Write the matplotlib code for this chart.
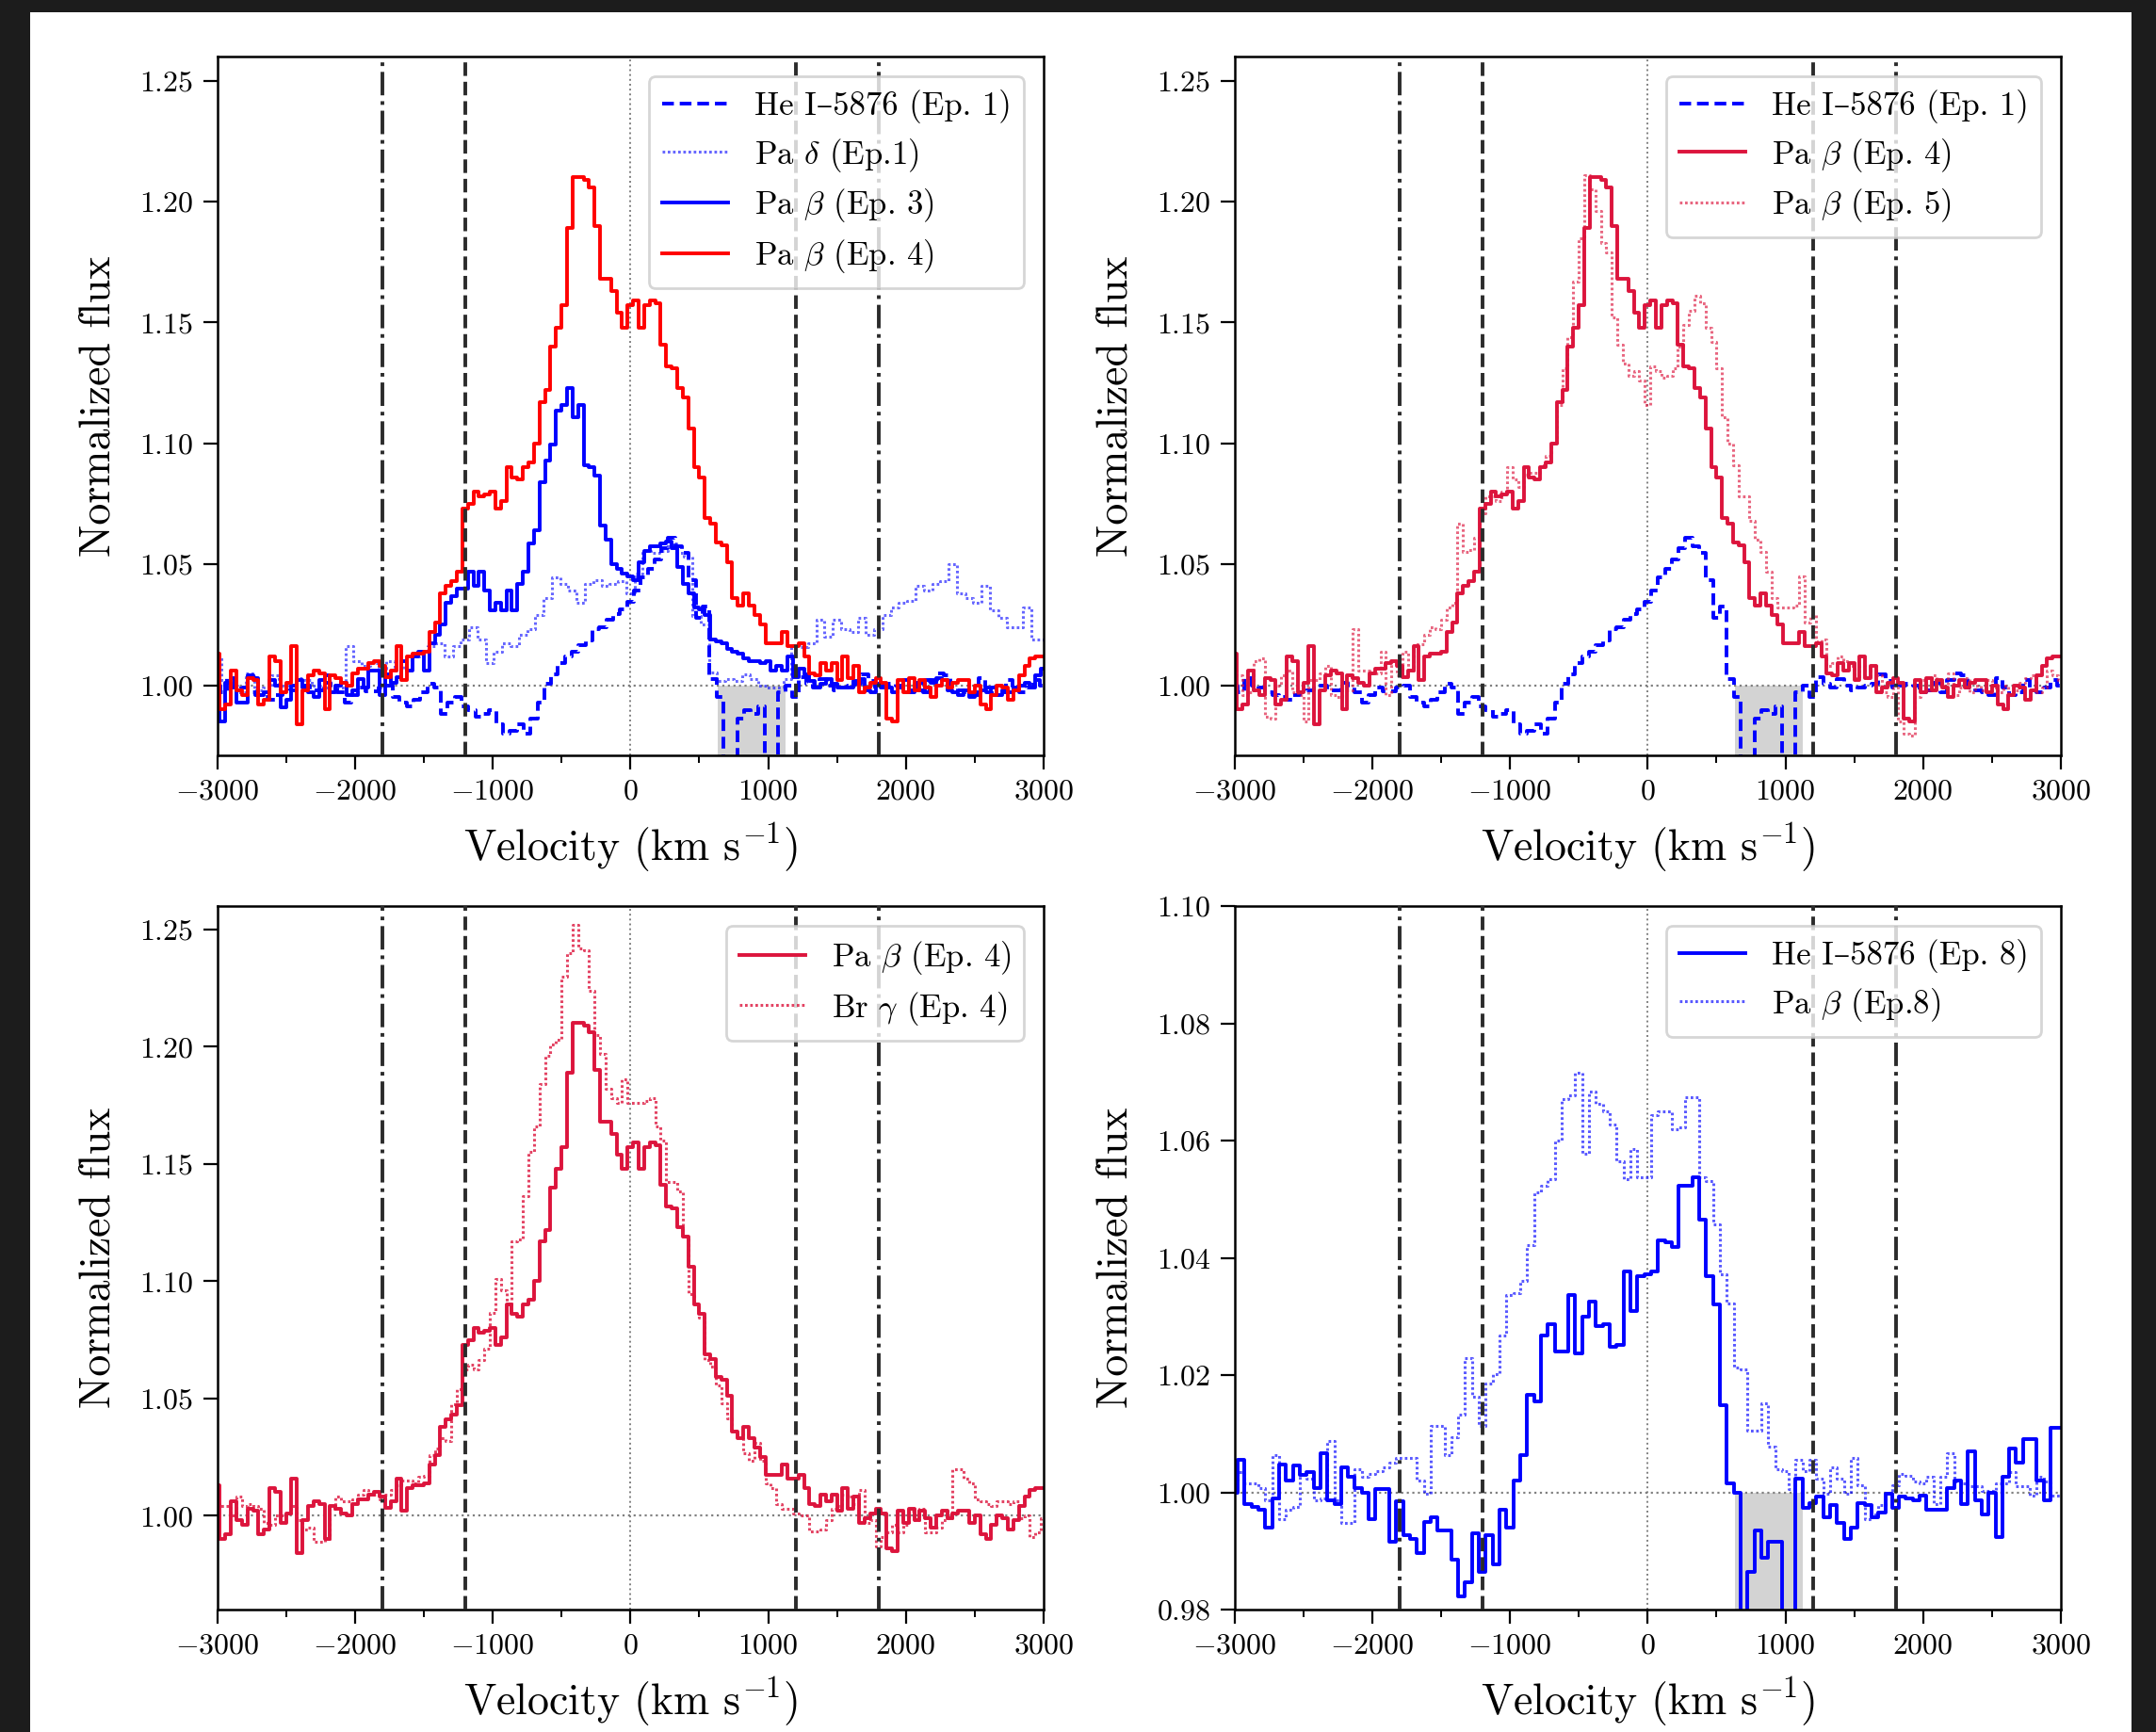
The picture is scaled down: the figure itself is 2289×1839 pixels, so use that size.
import numpy as np
import matplotlib
matplotlib.use("Agg")
import matplotlib.pyplot as plt
from matplotlib.ticker import MultipleLocator, NullLocator
from matplotlib.patches import Rectangle

plt.rcParams['font.family'] = ['cmr10', 'DejaVu Serif']
plt.rcParams['mathtext.fontset'] = 'cm'
plt.rcParams['axes.formatter.use_mathtext'] = True
plt.rcParams['axes.unicode_minus'] = True

# ---------------- data (normalized flux) ----------------
# Pa beta, epoch 4 : start -3000 km/s, 40 km/s bins
PAB_EP4_V0, PAB_EP4_DV = -3000, 40
PAB_EP4 = [
    1.013, 0.990, 0.992, 1.006, 0.998, 0.996, 1.003, 1.002, 0.992, 0.994,
    1.012, 1.010, 0.997, 1.001, 1.016, 0.984, 0.998, 1.004, 1.006, 1.005,
    0.990, 1.004, 1.003, 1.001, 1.000, 1.005, 1.007, 1.007, 1.009, 1.010, 1.008,
    1.0035, 1.006, 1.016, 1.002, 1.012, 1.013, 1.013, 1.014, 1.022, 1.026,
    1.038, 1.041, 1.043, 1.047, 1.073, 1.075, 1.080, 1.078, 1.079, 1.080,
    1.073, 1.076, 1.090, 1.086, 1.085, 1.090, 1.092, 1.100, 1.117, 1.122,
    1.140, 1.148, 1.157, 1.189, 1.210, 1.210, 1.209, 1.206, 1.190, 1.168,
    1.168, 1.163, 1.154, 1.148, 1.157, 1.159, 1.148, 1.157, 1.159, 1.158,
    1.141, 1.132, 1.131, 1.123, 1.119, 1.106, 1.090, 1.086, 1.069, 1.067,
    1.059, 1.058, 1.051, 1.036, 1.033, 1.038, 1.033, 1.029, 1.025, 1.0175,
    1.0175, 1.0175, 1.022, 1.016, 1.016, 1.0175, 1.012, 1.005, 1.004, 1.009,
    1.006, 1.009, 1.002, 1.012, 1.003, 1.008, 0.997, 0.999, 1.001, 1.003,
    1.001, 0.986,
    0.985, 1.002, 0.997, 1.003, 0.998, 1.002, 0.999, 0.995, 1.000, 1.002,
    0.999, 1.001, 1.002, 1.002, 0.997, 1.000, 0.992, 0.990, 0.996, 1.000,
    0.999, 0.994, 0.998, 1.004, 1.008, 1.011, 1.012, 1.012,
]

# Pa beta, epoch 3 : start -3000 km/s, 40 km/s bins
PAB_EP3_V0, PAB_EP3_DV = -3000, 40
PAB_EP3 = [
    1.010, 0.985, 1.001, 0.999, 0.993, 0.993, 1.004, 1.003, 0.996, 0.997,
    1.002, 1.000, 0.991, 0.994, 1.000, 1.002, 0.999, 0.997, 0.995, 1.002,
    1.004, 0.997, 1.000, 1.001, 0.996, 0.998,
    1.0026, 0.9989, 1.006, 1.006, 0.996, 1.0045, 1.001, 1.0035, 1.010, 1.006,
    1.012, 1.014, 1.006, 1.0175, 1.021, 1.025, 1.034, 1.037, 1.040, 1.040,
    1.047, 1.041, 1.047, 1.039, 1.031, 1.034, 1.031, 1.039, 1.031, 1.042,
    1.047, 1.0585, 1.064, 1.084, 1.093, 1.0995, 1.1135, 1.116, 1.123, 1.111,
    1.116, 1.091, 1.090, 1.0865, 1.066, 1.060, 1.050, 1.048, 1.046, 1.045,
    1.0436, 1.051, 1.0557, 1.0576, 1.0576, 1.0585, 1.0594, 1.0567, 1.049, 1.042,
    1.038, 1.032, 1.0315, 1.029, 1.019, 1.018, 1.0175, 1.015, 1.014, 1.013,
    1.011, 1.010, 1.010, 1.009, 1.010, 1.006, 1.008, 1.006, 1.012, 1.0035,
    1.007, 1.0045, 1.0017, 0.999, 1.0007, 1.0026, 1.0007, 0.999, 0.999, 0.999,
    1.0017, 1.0026, 0.998, 0.997, 1.0007, 0.999, 0.999, 0.997,
    0.999, 1.002, 0.997, 0.999, 0.998, 1.002, 1.001, 1.003, 1.002, 0.998,
    0.997, 0.996, 0.998, 0.995, 0.997, 0.998, 0.997, 0.999, 0.996, 0.998,
    0.997, 0.999, 1.000, 1.001, 0.999, 1.004, 1.007,
]

# He I 5876, epoch 1 : start -3000 km/s, 50 km/s bins
HEI_EP1_V0, HEI_EP1_DV = -3000, 50
HEI_EP1 = [
    1.000, 0.997, 1.003, 1.000, 0.999, 0.997, 0.996, 0.995, 0.994, 0.996,
    0.997, 0.998, 1.000, 1.000, 0.998, 0.998, 1.001, 0.999, 0.997, 0.993, 0.996,
    0.999, 0.9976, 0.9974, 0.999, 1.000, 0.995, 0.993, 0.9914, 0.994, 0.997,
    1.0007, 0.999, 0.988, 0.993, 0.995, 0.9914, 0.9896, 0.987, 0.988, 0.9896,
    0.984, 0.980, 0.981, 0.984, 0.980, 0.986, 0.993, 1.0007, 1.0045, 1.009,
    1.012, 1.0138, 1.0166, 1.0184, 1.023, 1.024, 1.027, 1.0296, 1.0315, 1.0343,
    1.039, 1.0445, 1.048, 1.052, 1.0567, 1.061, 1.0576, 1.0548, 1.0436, 1.028,
    1.0324, 1.0026, 0.995, 0.955, 0.955, 0.986, 0.9896, 0.988, 0.9914, 0.955,
    0.955, 0.997, 1.000, 0.995, 1.0035, 1.0007, 0.999, 1.0026, 1.000, 0.998,
    0.999, 1.000, 1.0007, 1.0045, 1.0017, 0.999, 1.000, 1.0007,
    1.000, 0.997, 0.998, 1.001, 0.997, 1.002, 1.005, 1.004, 0.999, 0.998,
    0.997, 0.996, 1.003, 0.999, 0.996, 0.997, 1.002, 0.998, 0.997, 0.999,
    1.002, 1.000,
]

# Pa delta, epoch 1 : start -3000 km/s, 60 km/s bins
PAD_EP1_V0, PAD_EP1_DV = -3000, 60
PAD_EP1 = [
    1.012, 1.002, 1.000, 0.997, 1.005, 0.998, 0.999, 1.004, 1.000, 1.000,
    1.003, 1.002, 1.000, 0.999, 0.998, 0.999, 1.016, 1.010,
    1.008, 1.009, 1.007, 1.010, 1.006, 1.008, 1.012, 1.014, 1.016, 1.0175,
    1.012, 1.016, 1.019, 1.024, 1.019, 1.009, 1.0138, 1.0175, 1.016, 1.021,
    1.023, 1.029, 1.036, 1.0445, 1.042, 1.039, 1.034, 1.042, 1.0436, 1.041,
    1.042, 1.043, 1.038, 1.046, 1.0557, 1.0548, 1.0557, 1.0585, 1.0548, 1.053,
    1.0287, 1.025, 1.0054, 1.0017, 1.0026, 1.0017, 1.0045, 1.0026, 1.000, 0.999,
    0.999, 1.0026, 1.0166, 1.0156, 1.0175, 1.027, 1.020, 1.027, 1.023, 1.022,
    1.028, 1.021, 1.023, 1.029, 1.032,
    1.034, 1.035, 1.041, 1.039, 1.042, 1.043, 1.050, 1.038, 1.036, 1.034,
    1.041, 1.031, 1.028, 1.024, 1.024, 1.032, 1.019, 1.019,
]

# Pa beta, epoch 5 : start -3000 km/s, 40 km/s bins
PAB_EP5_V0, PAB_EP5_DV = -3000, 40
PAB_EP5 = [
    1.006, 1.004, 0.996, 0.997, 1.010, 1.011, 0.987, 0.986, 1.000, 1.004,
    1.006, 0.997, 0.996, 0.985, 1.002, 1.002, 1.005, 1.008, 0.996, 0.995,
    0.998, 0.998, 1.023, 1.006, 1.006, 1.005,
    1.005, 1.014, 0.996, 1.010, 1.004, 1.014, 1.006, 1.017, 1.017, 1.021,
    1.024, 1.023, 1.027, 1.032, 1.034, 1.067, 1.055, 1.056, 1.061, 1.071,
    1.078, 1.078, 1.076, 1.080, 1.090, 1.085, 1.082, 1.087, 1.088, 1.088,
    1.091, 1.095, 1.100, 1.116, 1.131, 1.144, 1.167, 1.185, 1.211, 1.205,
    1.196, 1.183, 1.179, 1.152, 1.141, 1.133, 1.128, 1.130, 1.126, 1.116,
    1.132, 1.130, 1.127, 1.128, 1.131, 1.140, 1.149, 1.155, 1.161, 1.158,
    1.148, 1.142, 1.131, 1.111, 1.100, 1.091, 1.078, 1.078, 1.068, 1.060,
    1.055, 1.047, 1.036, 1.032, 1.032, 1.032, 1.033, 1.045, 1.026, 1.029,
    1.018, 1.019, 1.008, 1.009, 1.012, 1.010, 1.008, 1.003, 1.008, 1.003,
    1.008, 1.004, 0.997, 0.995, 0.999, 0.985, 0.980, 0.979,
    0.995, 1.002, 0.998, 1.004, 1.002, 1.000, 1.005, 0.996, 0.999, 1.003,
    0.997, 1.000, 0.998, 1.002, 0.999, 0.997, 1.000, 0.996, 0.998, 1.001,
    1.003, 1.004, 0.997, 0.999, 1.006, 1.004, 1.002,
]

# Br gamma, epoch 4 : start -3000 km/s, 40 km/s bins
BRG_EP4_V0, BRG_EP4_DV = -3000, 40
BRG_EP4 = [
    1.005, 1.004, 1.004, 1.000, 1.008, 1.004, 1.005, 1.004, 1.003, 0.997,
    0.996, 1.000, 1.000, 1.001, 1.004, 0.998, 0.994, 0.995, 0.989, 0.989,
    0.990, 1.003, 1.008, 1.006, 1.006, 1.007,
    1.009, 1.011, 1.009, 1.009, 1.007, 1.009, 1.011, 1.013, 1.015, 1.015,
    1.014, 1.0165, 1.017, 1.026, 1.0285, 1.033, 1.032, 1.0475, 1.054, 1.0625,
    1.0645, 1.0625, 1.0665, 1.0712, 1.0865, 1.101, 1.096, 1.090, 1.117, 1.118,
    1.1365, 1.155, 1.166, 1.184, 1.196, 1.201, 1.203, 1.230, 1.240, 1.252,
    1.242, 1.241, 1.224, 1.205, 1.197, 1.182, 1.178, 1.176, 1.186, 1.176,
    1.176, 1.176, 1.177, 1.178, 1.166, 1.160, 1.1425, 1.1425, 1.1385, 1.119,
    1.0945, 1.0905, 1.0845, 1.0665, 1.0635, 1.0555, 1.048, 1.0415, 1.0365, 1.0345,
    1.0265, 1.0235, 1.031, 1.0235, 1.014, 1.012, 1.005, 1.003, 1.003, 1.001,
    1.000, 1.000, 0.9935, 0.9935, 0.994, 0.998, 1.003, 1.004, 1.009, 1.008,
    1.005, 1.011, 0.997, 0.998, 0.987, 0.991, 0.993, 0.996,
    0.993, 0.996, 1.002, 0.998, 1.003, 0.993, 0.993, 0.995, 0.998, 0.999,
    1.020, 1.020, 1.016, 1.014, 1.007, 1.006, 1.005, 1.004, 1.006, 1.006,
    1.005, 1.006, 0.999, 1.000, 0.991, 0.993, 0.999,
]

# He I 5876, epoch 8 : start -3000 km/s, 50 km/s bins
HEI_EP8_V0, HEI_EP8_DV = -3000, 50
HEI_EP8 = [
    1.000, 1.0055, 0.998, 0.9975, 0.997, 0.994, 0.999, 1.0047, 1.002, 1.0045,
    1.003, 1.0035, 1.0007, 1.0067, 0.9987, 0.998, 1.0043, 1.0027, 1.0007, 1.000, 0.9955,
    1.0005, 1.0005, 0.9916, 0.9985, 0.9927, 0.992, 0.9896, 0.995, 0.9958, 0.9935,
    0.9935, 0.9885, 0.9823, 0.9846, 0.993, 0.9865, 0.9927, 0.9877, 0.997, 0.9939,
    1.002, 1.0063, 1.0167, 1.0155, 1.0268, 1.0287, 1.024, 1.024, 1.0337, 1.0237,
    1.030, 1.0326, 1.0283, 1.0287, 1.0248, 1.0252, 1.0376, 1.031, 1.0368, 1.0372,
    1.0376, 1.043, 1.0426, 1.0418, 1.0523, 1.0523, 1.0538, 1.0465, 1.0368, 1.032,
    1.0148, 1.0016, 1.000, 0.975, 0.9865, 0.9935, 0.9889, 0.9916, 0.9916, 0.975,
    0.975, 1.0024, 0.9974, 0.9981, 0.9993, 0.9958, 0.9978, 0.9947, 0.992, 0.9939,
    0.9981, 0.9978, 0.9958, 0.9966, 0.9997, 0.9974, 0.9993, 0.9989,
    0.9987, 0.9995, 0.997, 0.997, 0.997, 1.0007, 1.002, 0.998, 1.007, 0.9987,
    0.9963, 1.000, 0.9923, 1.0027, 1.0075, 1.005, 1.009, 1.009, 1.002, 0.9987,
    1.011, 1.011,
]

# Pa beta, epoch 8 : start -3000 km/s, 50 km/s bins
PAB_EP8_V0, PAB_EP8_DV = -3000, 50
PAB_EP8 = [
    1.0015, 1.0035, 1.0015, 1.0015, 1.0007, 0.9987, 1.0063, 0.9955, 0.997, 0.9975,
    1.0031, 1.0023, 0.9987, 0.999, 1.0087, 0.9987, 0.9947, 0.9947, 1.0039, 1.0027, 1.0031,
    1.0036, 1.0043, 1.0051, 1.0059, 1.0059, 1.0059, 1.002, 0.9997, 1.0113, 1.0113,
    1.0063, 1.0094, 1.0132, 1.0229, 1.0163, 1.0113, 1.0186, 1.0202, 1.0268, 1.0337,
    1.034, 1.036, 1.0422, 1.0511, 1.0523, 1.0534, 1.060, 1.067, 1.0677, 1.0716,
    1.0577, 1.0684, 1.0662, 1.065, 1.0627, 1.0565, 1.0534, 1.0585, 1.0538, 1.0538,
    1.0643, 1.065, 1.065, 1.062, 1.0623, 1.0674, 1.0674, 1.0538, 1.0531, 1.0457,
    1.0372, 1.0322, 1.0213, 1.021, 1.0105, 1.0105, 1.0152, 1.0078, 1.0039, 1.0036,
    1.0005, 1.0055, 1.0036, 1.0055, 1.0024, 0.9997, 1.0043, 1.0024, 0.9997, 1.0059,
    1.0012, 0.9954, 0.9962, 0.9978, 0.9997, 1.0012, 1.0032, 1.0028,
    1.0019, 1.0015, 1.0027, 0.998, 1.0027, 1.0067, 1.0019, 1.0015, 1.0011, 1.0011,
    1.0003, 1.0003, 1.0015, 1.0015, 1.0035, 1.0011, 1.0011, 0.9995, 1.0027, 1.0019,
    0.9995, 0.9995,
]

# reference velocities (km/s) and masked telluric window
V_OUTER = [-1800, 1800]
V_INNER = [-1200, 1200]
MASK_WINDOW = [635, 1125]

XTICK_LABELS = [-3000, -2000, -1000, 0, 1000, 2000, 3000]


def vgrid(v0, dv, flux):
    return v0 + dv * np.arange(len(flux))


# ---------------- figure ----------------
W, H, DPI = 2289, 1839, 200
fig = plt.figure(figsize=(W / DPI, H / DPI), dpi=DPI)
fig.patch.set_facecolor('#1c1c1c')
fig.add_artist(Rectangle((32 / W, 0), (2263 - 32) / W, (H - 13) / H,
                         transform=fig.transFigure, facecolor='white',
                         edgecolor='none', zorder=-10))

LX = [230.5 / W, 1310.5 / W]
AW = 877.5 / W
TOP_B, TOP_H = 1 - 802 / H, 742 / H
BOT_B, BOT_H = 1 - 1709 / H, 747 / H

ax_tl = fig.add_axes([LX[0], TOP_B, AW, TOP_H])
ax_tr = fig.add_axes([LX[1], TOP_B, AW, TOP_H])
ax_bl = fig.add_axes([LX[0], BOT_B, AW, BOT_H])
ax_br = fig.add_axes([LX[1], BOT_B, AW, BOT_H])

LW = 1.4
DOT = (0, (0.9, 0.9))


def decorate(ax, ylim, ystep, mask=True):
    ax.set_xlim(-3000, 3000)
    ax.set_ylim(*ylim)
    ax.set_xticks(XTICK_LABELS)
    ax.xaxis.set_minor_locator(MultipleLocator(500))
    ax.yaxis.set_major_locator(MultipleLocator(ystep))
    ax.yaxis.set_minor_locator(NullLocator())
    ax.tick_params(which='major', direction='out', length=5.5, width=0.8,
                   labelsize=11.5, top=False, right=False)
    ax.tick_params(which='minor', direction='out', length=2.8, width=0.7,
                   top=False, right=False)
    for s in ax.spines.values():
        s.set_linewidth(0.9)
    ax.set_xlabel(r'Velocity (km s$^{-1}$)', fontsize=16.5, labelpad=6)
    ax.set_ylabel('Normalized flux', fontsize=16.5, labelpad=8)
    if mask:
        ax.fill_between(MASK_WINDOW, ylim[0], 1.0, color='lightgray',
                        linewidth=0, zorder=0.5)
    ax.axhline(1.0, color='gray', ls=':', lw=0.8, zorder=1)
    ax.axvline(0, color='gray', ls=':', lw=0.7, zorder=1)
    for v in V_OUTER:
        ax.axvline(v, color='#2b2b2b', ls='-.', lw=1.4, zorder=3)
    for v in V_INNER:
        ax.axvline(v, color='#2b2b2b', ls='--', lw=1.4, zorder=3)


def step(ax, v0, dv, flux, **kw):
    ax.plot(vgrid(v0, dv, flux), flux, drawstyle='steps-mid', **kw)


HEI_LABEL1 = 'He I\u20135876 (Ep. 1)'
HEI_LABEL8 = 'He I\u20135876 (Ep. 8)'

# top-left
step(ax_tl, HEI_EP1_V0, HEI_EP1_DV, HEI_EP1, color='blue', ls=(0, (3.2, 1.6)), lw=LW, label=HEI_LABEL1)
step(ax_tl, PAD_EP1_V0, PAD_EP1_DV, PAD_EP1, color='blue', ls=DOT, lw=1.1, alpha=0.6,
     label=r'Pa $\delta$ (Ep.1)')
step(ax_tl, PAB_EP3_V0, PAB_EP3_DV, PAB_EP3, color='blue', ls='-', lw=LW, label=r'Pa $\beta$ (Ep. 3)')
step(ax_tl, PAB_EP4_V0, PAB_EP4_DV, PAB_EP4, color='red', ls='-', lw=LW, label=r'Pa $\beta$ (Ep. 4)')
decorate(ax_tl, (0.971, 1.26), 0.05)

# top-right
step(ax_tr, HEI_EP1_V0, HEI_EP1_DV, HEI_EP1, color='blue', ls=(0, (3.2, 1.6)), lw=LW, label=HEI_LABEL1)
step(ax_tr, PAB_EP4_V0, PAB_EP4_DV, PAB_EP4, color='crimson', ls='-', lw=LW, label=r'Pa $\beta$ (Ep. 4)')
step(ax_tr, PAB_EP5_V0, PAB_EP5_DV, PAB_EP5, color='crimson', ls=DOT, lw=1.1, alpha=0.65,
     label=r'Pa $\beta$ (Ep. 5)')
decorate(ax_tr, (0.971, 1.26), 0.05)

# bottom-left
step(ax_bl, PAB_EP4_V0, PAB_EP4_DV, PAB_EP4, color='crimson', ls='-', lw=LW, label=r'Pa $\beta$ (Ep. 4)')
step(ax_bl, BRG_EP4_V0, BRG_EP4_DV, BRG_EP4, color='crimson', ls=DOT, lw=1.1, alpha=0.8,
     label=r'Br $\gamma$ (Ep. 4)')
decorate(ax_bl, (0.96, 1.26), 0.05, mask=False)

# bottom-right
step(ax_br, HEI_EP8_V0, HEI_EP8_DV, HEI_EP8, color='blue', ls='-', lw=LW, label=HEI_LABEL8)
step(ax_br, PAB_EP8_V0, PAB_EP8_DV, PAB_EP8, color='blue', ls=DOT, lw=1.1, alpha=0.65,
     label=r'Pa $\beta$ (Ep.8)')
decorate(ax_br, (0.98, 1.10), 0.02)

for ax in (ax_tl, ax_tr, ax_bl, ax_br):
    ax.legend(loc='upper right', fontsize=12.5, framealpha=0.8,
              borderaxespad=0.6, labelspacing=0.4)

fig.savefig('out.png', dpi=DPI, facecolor=fig.get_facecolor())
